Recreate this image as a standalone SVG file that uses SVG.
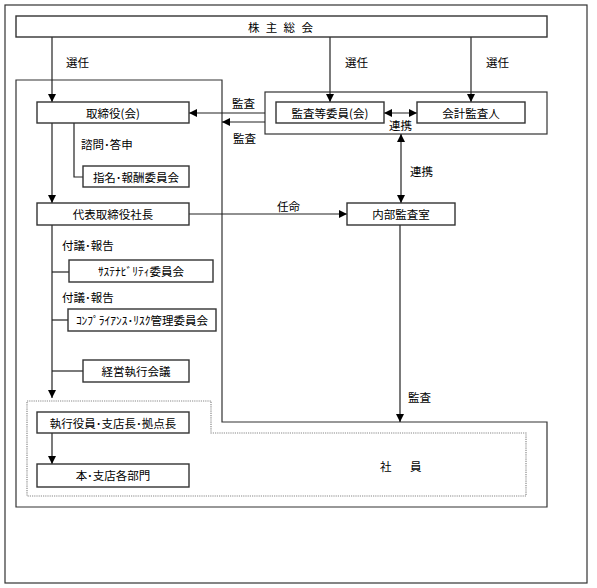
<svg xmlns="http://www.w3.org/2000/svg" width="597" height="588" viewBox="0 0 597 588">
<defs>
<style>
text{font-family:"Noto Sans CJK JP","Noto Sans CJK SC",sans-serif;font-size:11.5px;fill:#000;dominant-baseline:central}
.c{text-anchor:middle}
.box{fill:#fff;stroke:#333;stroke-width:1.4}
.frame{fill:none;stroke:#333;stroke-width:1.2}
.dot{fill:none;stroke:#888;stroke-width:1.2;stroke-dasharray:1.2,1}
.ln{fill:none;stroke:#222;stroke-width:1.2}
</style>
<marker id="ah" markerUnits="userSpaceOnUse" markerWidth="8" markerHeight="8" refX="8" refY="4" orient="auto-start-reverse">
<path d="M0,0 L8,4 L0,8 z" fill="#000"/>
</marker>
</defs>
<rect x="0" y="0" width="597" height="588" fill="#fff"/>
<rect class="frame" x="5" y="5" width="582" height="578"/>
<g id="company-frame">
<path class="frame" d="M16,80 H222 V422 H547 V507 H16 Z"/>
</g>
<g id="employee-frame">
<path class="dot" d="M27,401 H211 V433 H526 V496 H27 Z"/>
<text x="380" y="466" letter-spacing="18.5">社員</text>
</g>
<g id="audit-frame">
<rect class="frame" x="265" y="92" width="282" height="42"/>
</g>
<g id="connectors">
<line class="ln" x1="52" y1="37" x2="52" y2="102" marker-end="url(#ah)"/>
<line class="ln" x1="330" y1="37" x2="330" y2="102" marker-end="url(#ah)"/>
<line class="ln" x1="471" y1="37" x2="471" y2="102" marker-end="url(#ah)"/>
<line class="ln" x1="265" y1="113" x2="189" y2="113" marker-end="url(#ah)"/>
<line class="ln" x1="265" y1="122" x2="222" y2="122" marker-end="url(#ah)"/>
<line class="ln" x1="384" y1="113" x2="417" y2="113" marker-start="url(#ah)" marker-end="url(#ah)"/>
<line class="ln" x1="401" y1="134" x2="401" y2="203" marker-start="url(#ah)" marker-end="url(#ah)"/>
<polyline class="ln" points="74,123 74,177 83,177"/>
<line class="ln" x1="52" y1="123" x2="52" y2="203" marker-end="url(#ah)"/>
<line class="ln" x1="189" y1="214" x2="347" y2="214" marker-end="url(#ah)"/>
<line class="ln" x1="400" y1="225" x2="400" y2="422" marker-end="url(#ah)"/>
<line class="ln" x1="52" y1="225" x2="52" y2="398" marker-end="url(#ah)"/>
<line class="ln" x1="52" y1="272" x2="69" y2="272"/>
<line class="ln" x1="52" y1="320" x2="68" y2="320"/>
<line class="ln" x1="52" y1="371" x2="83" y2="371"/>
<line class="ln" x1="52" y1="433" x2="52" y2="464" marker-end="url(#ah)"/>
<text x="66" y="62">選任</text>
<text x="345" y="62">選任</text>
<text x="486" y="62">選任</text>
<text x="232" y="103">監査</text>
<text x="233" y="138">監査</text>
<text x="389" y="125">連携</text>
<text x="410" y="171">連携</text>
<text x="81" y="144">諮問･答申</text>
<text x="277" y="206">任命</text>
<text x="62" y="245">付議･報告</text>
<text x="62" y="297">付議･報告</text>
<text x="408" y="397">監査</text>
</g>
<g id="shareholders">
<rect class="box" x="16" y="16" width="531" height="21"/>
<text x="248" y="27" letter-spacing="6.3">株主総会</text>
</g>
<g id="board">
<rect class="box" x="37" y="102" width="152" height="21"/>
<text class="c" x="113" y="113">取締役(会)</text>
</g>
<g id="audit-committee">
<rect class="box" x="276" y="102" width="108" height="21"/>
<text class="c" x="330" y="113">監査等委員(会)</text>
</g>
<g id="accounting-auditor">
<rect class="box" x="417" y="102" width="108" height="21"/>
<text class="c" x="471" y="113">会計監査人</text>
</g>
<g id="nomination-committee">
<rect class="box" x="83" y="166" width="106" height="21"/>
<text class="c" x="136" y="177">指名･報酬委員会</text>
</g>
<g id="president">
<rect class="box" x="37" y="203" width="152" height="22"/>
<text class="c" x="113" y="214">代表取締役社長</text>
</g>
<g id="internal-audit">
<rect class="box" x="347" y="203" width="108" height="22"/>
<text class="c" x="401" y="214">内部監査室</text>
</g>
<g id="sustainability">
<rect class="box" x="69" y="260" width="144" height="22"/>
<text class="c" x="141" y="271">ｻｽﾃﾅﾋﾞﾘﾃｨ委員会</text>
</g>
<g id="compliance">
<rect class="box" x="68" y="309" width="148" height="22"/>
<text class="c" x="142" y="320">ｺﾝﾌﾟﾗｲｱﾝｽ･ﾘｽｸ管理委員会</text>
</g>
<g id="management-meeting">
<rect class="box" x="83" y="360" width="106" height="22"/>
<text class="c" x="136" y="371">経営執行会議</text>
</g>
<g id="executives">
<rect class="box" x="37" y="412" width="152" height="21"/>
<text class="c" x="113" y="423">執行役員･支店長･拠点長</text>
</g>
<g id="departments">
<rect class="box" x="37" y="464" width="152" height="23"/>
<text class="c" x="113" y="475">本･支店各部門</text>
</g>
</svg>
